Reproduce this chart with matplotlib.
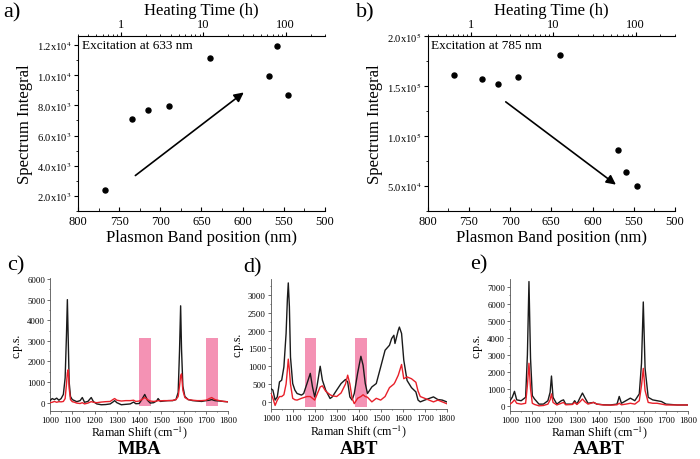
import numpy as np
import matplotlib
matplotlib.use('Agg')
import matplotlib.pyplot as plt
from matplotlib.ticker import MultipleLocator, FuncFormatter, LogLocator, NullFormatter
from matplotlib.patches import Rectangle

plt.rcParams['font.family'] = 'serif'
plt.rcParams['font.serif'] = ['Liberation Serif', 'DejaVu Serif']
plt.rcParams['mathtext.fontset'] = 'stix'

#### data
## a) excitation 633 nm
band_a = [767, 734, 715, 690, 640, 568, 558, 545]
integral_a = [2400, 7100, 7680, 7960, 11120, 9950, 11930, 8710]
arrow_a = [(733, 3240), (596, 8970)]

## b) excitation 785 nm
band_b = [768, 734, 715, 690, 640, 569, 559, 546]
integral_b = [161000, 156800, 152300, 158700, 181000, 85600, 63600, 50400]
arrow_b = [(708, 135800), (569, 49700)]

## c) MBA
mba_x = [1000, 1010, 1020, 1030, 1040, 1050, 1060, 1068, 1074, 1078, 1082, 1086, 1092, 1100,
         1110, 1120, 1135, 1145, 1155, 1170, 1185, 1195, 1210, 1230, 1250, 1270, 1282, 1290,
         1300, 1320, 1340, 1360, 1375, 1385, 1400, 1412, 1425, 1437, 1450, 1465, 1478, 1485,
         1495, 1510, 1530, 1550, 1565, 1575, 1581, 1586, 1590, 1596, 1605, 1620, 1640, 1660,
         1680, 1700, 1715, 1725, 1740, 1760, 1780, 1800]
mba_black = [100, 200, 150, 220, 120, 200, 400, 1200, 3300, 5000, 3000, 1000, 300, 150,
             100, 50, 100, 250, 20, 60, 250, 50, -60, -100, -90, -60, 30, 100,
             0, -100, -80, -60, 30, -50, -40, 150, 400, 120, -20, 0, 80, 200,
             60, 80, 100, 100, 150, 500, 2500, 4700, 2600, 800, 300, 150, 100, 80,
             60, 100, 120, 150, 100, 80, 60, 40]
mba_red = [0, 20, 60, 20, 50, 40, 60, 200, 900, 1450, 1600, 700, 150, 50,
           20, -20, -40, 0, -60, -20, 50, 20, 0, 30, 50, 60, 150, 200,
           120, 80, 100, 100, 120, 60, 80, 150, 250, 150, 80, 60, 80, 100,
           90, 100, 100, 110, 150, 300, 800, 1300, 1400, 600, 250, 150, 120, 100,
           100, 120, 200, 250, 150, 100, 60, 40]
mba_bands = [(1400, 1455), (1700, 1755)]
mba_band_span = (-150, 3130)

## d) ABT
abt_x = [1000, 1010, 1020, 1030, 1040, 1050, 1060, 1070, 1076, 1080, 1085, 1090, 1100,
         1110, 1120, 1140, 1150, 1165, 1180, 1190, 1200, 1210, 1225, 1235, 1250, 1270,
         1280, 1300, 1320, 1340, 1350, 1360, 1370, 1380, 1395, 1410, 1420, 1430, 1440,
         1460, 1480, 1500, 1520, 1540, 1550, 1560, 1565, 1580, 1585, 1595, 1605, 1620,
         1640, 1660, 1670, 1680, 1700, 1720, 1740, 1760, 1780, 1800]
abt_black = [375, 330, 50, 140, 560, 610, 980, 1920, 2900, 3340, 2670, 1260, 515,
             330, 235, 190, 235, 515, 800, 420, 140, 420, 1000, 610, 330, 95,
             140, 330, 515, 630, 560, 140, 50, 235, 800, 1280, 1030, 515, 235,
             420, 515, 980, 1450, 1590, 1780, 1870, 1640, 2010, 2100, 1920, 1170, 600,
             400, 280, 50, 0, 50, 95, 140, 65, 50, 0]
abt_red = [250, 100, -100, 50, 150, 150, 200, 500, 900, 1200, 900, 500, 100,
           60, 50, 100, 120, 150, 150, 100, 50, 200, 420, 450, 300, 200,
           170, 150, 250, 500, 750, 500, 100, -50, 100, 150, 200, 150, 130,
           0, 100, 50, 150, 400, 450, 500, 550, 750, 850, 1050, 650, 700,
           650, 550, 300, 150, 100, 50, 0, 50, 0, -50]
abt_bands = [(1155, 1205), (1385, 1440)]
abt_band_span = (-150, 1800)

## e) AABT
aabt_x = [1000, 1010, 1020, 1030, 1050, 1070, 1078, 1085, 1092, 1100, 1110, 1130, 1150,
          1170, 1180, 1186, 1193, 1210, 1230, 1240, 1250, 1280, 1290, 1300, 1315, 1325,
          1335, 1350, 1375, 1390, 1420, 1450, 1480, 1490, 1500, 1520, 1540, 1560, 1580,
          1590, 1598, 1606, 1620, 1640, 1660, 1680, 1700, 1750, 1800]
aabt_black = [300, 500, 850, 350, 300, 500, 3000, 7300, 2800, 600, 400, 100, 100,
              300, 800, 1750, 500, 100, 300, 350, 100, 100, 300, 100, 500, 750,
              500, 150, 200, 100, 60, 50, 100, 550, 150, 300, 450, 300, 700,
              2500, 6100, 2200, 500, 350, 300, 250, 100, 50, 50]
aabt_red = [100, 200, 350, 150, 100, 150, 1200, 2500, 1000, 150, 80, 0, 20,
            100, 350, 700, 200, 50, 150, 200, 60, 80, 200, 80, 250, 400,
            250, 100, 200, 100, 50, 40, 60, 150, 60, 100, 150, 100, 300,
            1200, 2200, 900, 200, 150, 150, 100, 50, 50, 50]

heat_ticks = [1, 10, 100]


def sci_fmt(v, pos):
    if v <= 0:
        return ''
    e = int(np.floor(np.log10(v) + 1e-9))
    m = v / 10 ** e
    return f'{m:.1f}x10$^{{{e}}}$'


fig = plt.figure(figsize=(7, 4.6), dpi=100)


def top_panel(rect, band, integral, arrow, ylim, ymaj, ymin, note, letter, lx):
    ax = fig.add_axes(rect)
    ax.plot(band, integral, 'o', color='black', ms=3.6)
    ax.annotate('', xy=arrow[1], xytext=arrow[0],
                arrowprops=dict(arrowstyle='-|>', color='black', lw=1.2, mutation_scale=14))
    ax.set_xlim(800, 500)
    ax.set_ylim(*ylim)
    ax.xaxis.set_major_locator(MultipleLocator(50))
    ax.xaxis.set_minor_locator(MultipleLocator(25))
    ax.yaxis.set_major_locator(MultipleLocator(ymaj))
    ax.yaxis.set_minor_locator(MultipleLocator(ymin))
    ax.yaxis.set_major_formatter(FuncFormatter(sci_fmt))
    ax.spines['top'].set_visible(False)
    ax.spines['right'].set_visible(False)
    ax.tick_params(axis='x', which='both', direction='in', labelsize=9, pad=3)
    ax.tick_params(axis='x', which='major', length=3)
    ax.tick_params(axis='x', which='minor', length=2)
    ax.tick_params(axis='y', which='both', direction='out', labelsize=7.6, pad=1.5)
    ax.tick_params(axis='y', which='major', length=3)
    ax.tick_params(axis='y', which='minor', length=1.5)
    ax.set_xlabel('Plasmon Band position (nm)', fontsize=12, labelpad=1)
    ax.set_ylabel('Spectrum Integral', fontsize=12, labelpad=3)
    ax.text(0.015, 0.985, note, transform=ax.transAxes, fontsize=9.5, va='top', ha='left')

    top = ax.twiny()
    top.set_xscale('log')
    top.set_xlim(0.3, 300)
    top.set_xticks(heat_ticks)
    top.set_xticklabels([str(t) for t in heat_ticks])
    top.xaxis.set_minor_locator(LogLocator(base=10, subs=np.arange(2, 10)))
    top.xaxis.set_minor_formatter(NullFormatter())
    top.tick_params(axis='x', which='both', direction='out', labelsize=9, pad=1)
    top.tick_params(axis='x', which='major', length=3)
    top.tick_params(axis='x', which='minor', length=1.5)
    for s in ['left', 'right', 'bottom']:
        top.spines[s].set_visible(False)
    top.set_xlabel('Heating Time (h)', fontsize=12, labelpad=3)
    fig.text(lx, 0.972, letter, fontsize=16, va='center', ha='left')
    return ax


top_panel([0.1114, 0.5391, 0.3529, 0.3805], band_a, integral_a, arrow_a,
          (1000, 12600), 2000, 1000, 'Excitation at 633 nm', 'a)', 0.004)
top_panel([0.611, 0.5391, 0.3533, 0.3805], band_b, integral_b, arrow_b,
          (25000, 200000), 50000, 25000, 'Excitation at 785 nm', 'b)', 0.508)


def spec_panel(rect, x, black, red, ylim, ymaj, bands, band_span, name, letter, lpos):
    ax = fig.add_axes(rect)
    for b0, b1 in bands:
        ax.add_patch(Rectangle((b0, band_span[0]), b1 - b0, band_span[1] - band_span[0],
                               facecolor='#f492b4', edgecolor='none', zorder=1))
    ax.plot(x, black, color='#1a1a1a', lw=1.0, zorder=3)
    ax.plot(x, red, color='#e8202a', lw=1.0, zorder=4)
    ax.set_xlim(1000, 1800)
    ax.set_ylim(*ylim)
    ax.xaxis.set_major_locator(MultipleLocator(100))
    ax.xaxis.set_minor_locator(MultipleLocator(50))
    ax.yaxis.set_major_locator(MultipleLocator(ymaj))
    ax.yaxis.set_minor_locator(MultipleLocator(ymaj / 2))
    ax.spines['top'].set_visible(False)
    ax.spines['right'].set_visible(False)
    for s in ['left', 'bottom']:
        ax.spines[s].set_linewidth(0.6)
        ax.spines[s].set_color('#555555')
    ax.tick_params(which='both', direction='out', labelsize=6.3, pad=1.5, width=0.6, color='#555555')
    ax.tick_params(which='major', length=2)
    ax.tick_params(which='minor', length=1)
    ax.set_xlabel('Raman Shift (cm$^{-1}$)', fontsize=8.6, labelpad=0)
    ax.set_ylabel('c.p.s.', fontsize=8.5, labelpad=3)
    cx = rect[0] + rect[2] / 2
    fig.text(cx, 0.022, name, fontsize=13.5, fontweight='bold', ha='center', va='center')
    fig.text(lpos[0], lpos[1], letter, fontsize=16, va='center', ha='left')


spec_panel([0.0714, 0.1045, 0.2548, 0.2890], mba_x, mba_black, mba_red,
           (-400, 6050), 1000, mba_bands, mba_band_span, 'MBA', 'c)', (0.01, 0.422))
spec_panel([0.3867, 0.1087, 0.2514, 0.2826], abt_x, abt_black, abt_red,
           (-200, 3450), 500, abt_bands, abt_band_span, 'ABT', 'd)', (0.348, 0.417))
spec_panel([0.7286, 0.1045, 0.2547, 0.2868], aabt_x, aabt_black, aabt_red,
           (-300, 7450), 1000, [], (0, 0), 'AABT', 'e)', (0.672, 0.424))

plt.savefig('out.png', dpi=100)
